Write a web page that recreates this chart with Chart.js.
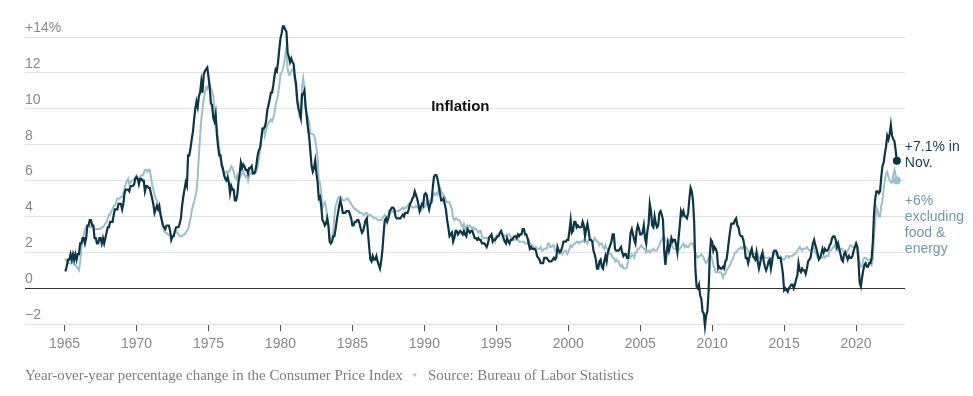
<!DOCTYPE html>
<html>
<head>
<meta charset="utf-8">
<script src="https://cdn.jsdelivr.net/npm/chart.js@4.4.1/dist/chart.umd.min.js"></script>
<style>
  html, body { margin: 0; padding: 0; background: #fff; }
  #wrap { position: relative; width: 973px; height: 396px; }
</style>
</head>
<body>
<div id="wrap"><canvas id="chart" width="973" height="396"></canvas></div>
<script>
// monthly year-over-year change, Jan 1965 .. Nov 2022
var startYear = 1965;

var headline = [
  1.0,1.0,1.3,1.6,1.6,1.9,1.6,1.9,1.6,1.9,1.6,1.9,       // 1965
  1.9,2.5,2.5,2.8,2.8,2.5,2.8,3.5,3.5,3.8,3.8,3.5,       // 1966
  3.5,2.8,2.8,2.5,2.5,2.8,2.8,2.5,2.8,2.5,2.8,3.1,       // 1967
  3.4,3.4,3.7,3.7,3.7,4.1,4.4,4.4,4.4,4.7,4.7,4.7,       // 1968
  4.4,4.7,5.3,5.5,5.5,5.5,5.4,5.7,5.7,5.7,5.8,6.1,       // 1969
  6.2,6.1,5.8,6.1,6.1,6.0,6.0,5.4,5.7,5.7,5.6,5.6,       // 1970
  5.3,5.0,4.7,4.2,4.4,4.6,4.4,4.6,4.1,3.8,3.5,3.4,       // 1971
  3.3,3.5,3.5,3.5,3.2,2.7,2.9,2.9,3.2,3.4,3.4,3.4,       // 1972
  3.6,3.9,4.6,5.1,5.5,5.9,5.7,7.4,7.4,7.8,8.3,8.7,       // 1973
  9.4,10.0,10.4,10.1,10.7,10.9,11.5,10.9,11.9,12.1,12.2,12.3, // 1974
  11.8,11.2,10.3,10.2,9.5,9.3,9.7,8.6,7.9,7.4,7.4,6.9,   // 1975
  6.7,6.3,6.1,6.0,6.2,5.9,5.3,5.7,5.5,5.5,4.9,4.9,       // 1976
  5.2,5.9,6.4,7.0,6.7,6.9,6.8,6.6,6.6,6.4,6.7,6.7,       // 1977
  6.8,6.4,6.4,6.5,6.9,7.4,7.7,7.8,8.3,8.9,8.9,9.0,       // 1978
  9.3,9.9,10.2,10.5,10.9,10.9,11.3,11.8,12.2,12.1,12.6,13.3, // 1979
  13.9,14.2,14.6,14.6,14.4,14.3,13.1,12.9,12.6,12.8,12.6,12.5, // 1980
  11.8,11.4,10.5,10.0,9.8,9.5,10.8,10.8,11.0,10.1,9.6,8.9,   // 1981
  8.4,7.6,6.8,6.5,6.7,7.1,6.4,5.9,5.0,5.1,4.6,3.8,       // 1982
  3.7,3.5,3.6,3.9,3.5,2.6,2.5,2.6,2.9,2.9,3.3,3.8,       // 1983
  4.2,4.6,4.9,4.6,4.2,4.2,4.2,4.3,4.3,4.3,4.1,3.9,       // 1984
  3.5,3.5,3.7,3.7,3.8,3.8,3.6,3.3,3.1,3.2,3.5,3.8,       // 1985
  3.9,3.1,2.3,1.6,1.5,1.8,1.6,1.6,1.8,1.5,1.3,1.1,       // 1986
  1.5,2.1,3.0,3.8,3.9,3.7,3.9,4.3,4.4,4.5,4.5,4.4,       // 1987
  4.0,3.9,3.9,3.9,3.9,4.0,4.1,4.0,4.2,4.2,4.2,4.4,       // 1988
  4.7,4.8,5.0,5.1,5.4,5.2,5.0,4.7,4.3,4.5,4.7,4.6,       // 1989
  5.2,5.3,5.2,4.7,4.4,4.7,4.8,5.6,6.2,6.3,6.3,6.1,       // 1990
  5.7,5.3,4.9,4.9,5.0,4.7,4.4,3.8,3.4,2.9,3.0,3.1,       // 1991
  2.6,2.8,3.2,3.2,3.0,3.1,3.2,3.1,3.0,3.2,3.0,2.9,       // 1992
  3.3,3.2,3.1,3.2,3.2,3.0,2.8,2.8,2.7,2.8,2.7,2.7,       // 1993
  2.5,2.5,2.5,2.4,2.3,2.5,2.8,2.9,3.0,2.6,2.7,2.7,       // 1994
  2.8,2.9,2.9,3.1,3.2,3.0,2.8,2.6,2.5,2.8,2.6,2.5,       // 1995
  2.7,2.7,2.8,2.9,2.9,2.8,3.0,2.9,3.0,3.0,3.3,3.3,       // 1996
  3.0,3.0,2.8,2.5,2.2,2.3,2.2,2.2,2.2,2.1,1.8,1.7,       // 1997
  1.6,1.4,1.4,1.4,1.7,1.7,1.7,1.6,1.5,1.5,1.5,1.6,       // 1998
  1.7,1.6,1.7,2.3,2.1,2.0,2.1,2.3,2.6,2.6,2.6,2.7,       // 1999
  2.7,3.2,3.8,3.1,3.2,3.7,3.7,3.4,3.5,3.4,3.4,3.4,       // 2000
  3.7,3.5,2.9,3.3,3.6,3.2,2.7,2.7,2.6,2.1,1.9,1.6,       // 2001
  1.1,1.1,1.5,1.6,1.2,1.1,1.5,1.8,1.5,2.0,2.2,2.4,       // 2002
  2.6,3.0,3.0,2.2,2.1,2.1,2.1,2.2,2.3,2.0,1.8,1.9,       // 2003
  1.9,1.7,1.7,2.3,3.1,3.3,3.0,2.7,2.5,3.2,3.5,3.3,       // 2004
  3.0,3.0,3.1,3.5,2.8,2.5,3.2,3.6,4.7,4.3,3.5,3.4,       // 2005
  4.0,3.6,3.4,3.5,4.2,4.3,4.1,3.8,2.1,1.3,2.0,2.5,       // 2006
  2.1,2.4,2.8,2.6,2.7,2.7,2.4,2.0,2.8,3.5,4.3,4.1,       // 2007
  4.3,4.0,4.0,3.9,4.2,5.0,5.6,5.4,4.9,3.7,1.1,0.1,       // 2008
  0.0,0.2,-0.4,-0.6,-1.3,-1.4,-2.1,-1.5,-1.3,-0.2,1.8,2.7, // 2009
  2.6,2.1,2.3,2.2,2.0,1.1,1.2,1.1,1.1,1.2,1.1,1.5,       // 2010
  1.6,2.1,2.7,3.2,3.6,3.6,3.6,3.8,3.9,3.5,3.4,3.0,       // 2011
  2.9,2.9,2.7,2.3,1.7,1.7,1.4,1.7,2.0,2.2,1.8,1.7,       // 2012
  1.6,2.0,1.5,1.1,1.4,1.8,2.0,1.5,1.2,1.0,1.2,1.5,       // 2013
  1.6,1.1,1.5,2.0,2.1,2.1,2.0,1.7,1.7,1.7,1.3,0.8,       // 2014
  -0.1,0.0,-0.1,-0.2,0.0,0.1,0.2,0.2,0.0,0.2,0.5,0.7,    // 2015
  1.4,1.0,0.9,1.1,1.0,1.0,0.8,1.1,1.5,1.6,1.7,2.1,       // 2016
  2.5,2.7,2.4,2.2,1.9,1.6,1.7,1.9,2.2,2.0,2.2,2.1,       // 2017
  2.1,2.2,2.4,2.5,2.8,2.9,2.9,2.7,2.3,2.5,2.2,1.9,       // 2018
  1.6,1.5,1.9,2.0,1.8,1.6,1.8,1.7,1.7,1.8,2.1,2.3,       // 2019
  2.5,2.3,1.5,0.3,0.1,0.6,1.0,1.3,1.4,1.2,1.2,1.4,       // 2020
  1.4,1.7,2.6,4.2,5.0,5.4,5.4,5.3,5.4,6.2,6.8,7.0,       // 2021
  7.5,7.9,8.5,8.3,8.6,9.1,8.5,8.3,8.2,7.7,7.1            // 2022
];

// excluding food & energy
var core = [
  1.6,1.6,1.5,1.4,1.4,1.4,1.4,1.5,1.3,1.3,1.2,1.1,       // 1965
  1.0,1.5,2.2,2.6,3.0,3.3,3.4,3.4,3.5,3.4,3.4,3.4,       // 1966
  3.4,3.3,3.3,3.3,3.3,3.3,3.3,3.4,3.4,3.5,3.6,3.7,       // 1967
  3.9,4.1,4.1,4.3,4.4,4.6,4.6,4.8,5.0,5.0,5.0,5.1,       // 1968
  5.1,5.3,5.6,5.8,6.0,6.1,5.8,5.9,6.0,6.0,6.1,6.2,       // 1969
  6.3,6.1,6.0,6.2,6.3,6.3,6.4,6.6,6.6,6.5,6.6,6.6,       // 1970
  6.2,5.8,5.5,5.2,5.0,4.9,4.6,4.5,4.2,3.9,3.5,3.2,       // 1971
  3.1,3.1,3.0,3.0,3.0,2.9,2.9,2.9,3.1,3.2,3.1,3.0,       // 1972
  2.9,2.9,2.9,3.0,3.0,3.1,3.2,3.3,3.6,3.9,4.3,4.6,       // 1973
  4.8,5.1,5.4,6.2,7.4,8.5,9.4,10.0,10.5,10.9,11.2,11.1,  // 1974
  11.3,11.4,11.1,11.0,10.7,10.0,9.5,8.8,8.3,7.8,7.3,6.7, // 1975
  6.6,6.4,6.4,6.5,6.4,6.5,6.6,6.8,6.7,6.5,6.2,6.1,       // 1976
  6.3,6.0,6.1,6.3,6.4,6.5,6.3,6.2,6.3,6.0,6.3,6.4,       // 1977
  6.4,6.4,6.4,6.4,6.6,6.8,7.2,7.7,8.4,8.7,8.9,8.5,       // 1978
  8.8,9.1,9.2,9.3,9.4,9.3,9.5,9.8,10.2,10.5,10.8,11.3,   // 1979
  11.9,12.0,12.2,12.5,13.0,13.4,12.2,11.9,11.9,12.1,12.2,12.2, // 1980
  11.6,11.1,10.3,10.3,9.5,9.5,11.3,11.7,11.1,10.1,9.3,9.5,   // 1981
  9.2,8.6,8.6,8.6,8.5,8.3,7.8,7.3,5.9,5.9,5.3,4.5,       // 1982
  4.7,4.8,4.5,4.0,3.5,2.9,2.7,2.7,3.2,4.0,4.6,4.8,       // 1983
  5.0,5.1,5.1,5.0,4.9,4.9,4.9,5.0,5.0,4.9,4.8,4.7,       // 1984
  4.6,4.5,4.4,4.4,4.3,4.3,4.2,4.2,4.2,4.1,4.1,4.2,       // 1985
  4.2,4.0,4.1,4.1,4.0,4.0,3.9,3.9,3.9,3.8,3.8,3.8,       // 1986
  3.8,3.9,4.0,4.1,4.0,4.0,4.0,4.1,4.2,4.3,4.3,4.2,       // 1987
  4.3,4.3,4.3,4.3,4.4,4.4,4.5,4.4,4.5,4.5,4.6,4.7,       // 1988
  4.6,4.6,4.5,4.5,4.5,4.6,4.5,4.5,4.4,4.3,4.4,4.5,       // 1989
  4.5,4.6,4.8,4.9,4.8,4.9,5.0,5.1,5.3,5.2,5.3,5.2,       // 1990
  5.5,5.6,5.4,5.3,5.2,5.1,4.9,4.8,4.8,4.8,4.6,4.4,       // 1991
  3.9,3.8,3.9,3.9,3.8,3.8,3.7,3.5,3.4,3.6,3.4,3.3,       // 1992
  3.5,3.4,3.5,3.4,3.3,3.4,3.3,3.3,3.2,3.1,3.2,3.2,       // 1993
  2.9,2.8,2.8,2.8,2.8,2.8,2.9,2.9,2.9,2.8,2.8,2.6,       // 1994
  2.9,3.0,3.0,3.1,3.1,3.0,3.0,2.9,2.9,3.0,3.0,3.0,       // 1995
  2.9,2.7,2.7,2.7,2.7,2.7,2.7,2.6,2.6,2.6,2.6,2.6,       // 1996
  2.5,2.5,2.5,2.7,2.5,2.4,2.4,2.3,2.2,2.3,2.2,2.2,       // 1997
  2.2,2.3,2.1,2.1,2.2,2.2,2.2,2.5,2.5,2.3,2.3,2.4,       // 1998
  2.4,2.1,2.1,2.2,2.0,2.1,2.1,1.9,2.0,2.1,2.1,1.9,       // 1999
  2.0,2.2,2.4,2.3,2.4,2.5,2.5,2.6,2.6,2.5,2.6,2.6,       // 2000
  2.6,2.7,2.7,2.6,2.5,2.7,2.7,2.7,2.6,2.6,2.8,2.7,       // 2001
  2.6,2.6,2.4,2.5,2.5,2.3,2.2,2.4,2.2,2.2,2.0,1.9,       // 2002
  1.9,1.7,1.7,1.5,1.6,1.5,1.5,1.3,1.2,1.3,1.1,1.1,       // 2003
  1.1,1.2,1.6,1.8,1.7,1.9,1.8,1.7,2.0,2.0,2.2,2.2,       // 2004
  2.3,2.4,2.3,2.2,2.2,2.0,2.1,2.1,2.0,2.1,2.1,2.2,       // 2005
  2.1,2.1,2.1,2.3,2.4,2.6,2.7,2.8,2.9,2.7,2.6,2.6,       // 2006
  2.7,2.7,2.5,2.3,2.2,2.2,2.2,2.1,2.1,2.2,2.3,2.4,       // 2007
  2.5,2.3,2.4,2.3,2.3,2.4,2.5,2.5,2.5,2.2,2.0,1.8,       // 2008
  1.7,1.8,1.8,1.9,1.8,1.7,1.5,1.4,1.5,1.7,1.7,1.8,       // 2009
  1.6,1.3,1.1,0.9,0.9,0.9,0.9,0.9,0.8,0.6,0.8,0.8,       // 2010
  1.0,1.1,1.2,1.3,1.5,1.6,1.8,2.0,2.0,2.1,2.2,2.2,       // 2011
  2.3,2.2,2.3,2.3,2.3,2.2,2.1,1.9,2.0,2.0,1.9,1.9,       // 2012
  1.9,2.0,1.9,1.7,1.7,1.6,1.7,1.8,1.7,1.7,1.7,1.7,       // 2013
  1.6,1.6,1.7,1.8,2.0,1.9,1.9,1.7,1.7,1.8,1.7,1.6,       // 2014
  1.6,1.7,1.8,1.8,1.7,1.8,1.8,1.8,1.9,1.9,2.0,2.1,       // 2015
  2.2,2.3,2.2,2.1,2.2,2.2,2.2,2.3,2.2,2.1,2.1,2.2,       // 2016
  2.3,2.2,2.0,1.9,1.7,1.7,1.7,1.7,1.7,1.8,1.7,1.8,       // 2017
  1.8,1.8,2.1,2.1,2.2,2.3,2.4,2.2,2.2,2.1,2.2,2.2,       // 2018
  2.2,2.1,2.0,2.1,2.0,2.1,2.2,2.4,2.4,2.3,2.3,2.3,       // 2019
  2.3,2.4,2.1,1.4,1.2,1.2,1.6,1.7,1.7,1.6,1.6,1.6,       // 2020
  1.4,1.3,1.6,3.0,3.8,4.5,4.3,4.0,4.0,4.6,4.9,5.5,       // 2021
  6.0,6.4,6.5,6.2,6.0,5.9,5.9,6.3,6.6,6.3,6.0            // 2022
];

var yearTicks = [1965, 1970, 1975, 1980, 1985, 1990, 1995, 2000, 2005, 2010, 2015, 2020];
var yTicks = [-2, 0, 2, 4, 6, 8, 10, 12, 14];

var darkColor = '#0c3545';
var lightColor = '#9dbfcd';

function toPoints(arr) {
  return arr.map(function(v, i) { return { x: startYear + i / 12, y: v }; });
}

function lastDot(arr, r) {
  return function(ctx) { return ctx.dataIndex === arr.length - 1 ? r : 0; };
}

// title, end labels and footer
var textPlugin = {
  id: 'texts',
  afterDraw: function(chart) {
    var ctx = chart.ctx;
    var xs = chart.scales.x, ys = chart.scales.y;
    var endX = xs.getPixelForValue(startYear + (headline.length - 1) / 12) + 8;
    ctx.save();
    ctx.textBaseline = 'middle';

    ctx.font = 'bold 15px "Liberation Sans", Arial, sans-serif';
    ctx.fillStyle = '#121212';
    ctx.textAlign = 'center';
    ctx.fillText('Inflation', xs.getPixelForValue(1992.5), ys.getPixelForValue(10.1));

    ctx.textAlign = 'left';
    ctx.font = '14px "Liberation Sans", Arial, sans-serif';
    var hy = ys.getPixelForValue(headline[headline.length - 1]);
    ctx.fillStyle = '#1d4252';
    ctx.fillText('+7.1% in', endX, hy - 14);
    ctx.fillText('Nov.', endX, hy + 2);

    var cy = ys.getPixelForValue(core[core.length - 1]);
    ctx.fillStyle = '#7298a8';
    ['+6%', 'excluding', 'food &', 'energy'].forEach(function(s, i) {
      ctx.fillText(s, endX, cy + 21 + i * 15.7);
    });

    // footer
    var note = 'Year-over-year percentage change in the Consumer Price Index';
    var src = 'Source: Bureau of Labor Statistics';
    ctx.font = '13px "Liberation Serif", serif';
    var w = ctx.measureText(note).width;
    var size = 13 * 378 / w;
    ctx.font = size.toFixed(2) + 'px "Liberation Serif", serif';
    ctx.fillStyle = '#7d7d7d';
    ctx.fillText(note, 25, 376);
    ctx.fillStyle = '#cccccc';
    ctx.fillText('\u2022', 412, 376);
    ctx.fillStyle = '#7d7d7d';
    ctx.fillText(src, 428, 376);
    ctx.restore();
  }
};

new Chart(document.getElementById('chart'), {
  type: 'line',
  data: {
    datasets: [
      {
        label: 'CPI',
        data: toPoints(headline),
        borderColor: darkColor,
        backgroundColor: darkColor,
        borderWidth: 2.2,
        pointRadius: lastDot(headline, 4),
        pointBorderWidth: 0,
        tension: 0,
        clip: false
      },
      {
        label: 'Excluding food and energy',
        data: toPoints(core),
        borderColor: lightColor,
        backgroundColor: lightColor,
        borderWidth: 2,
        pointRadius: lastDot(core, 4),
        pointBorderWidth: 0,
        tension: 0,
        clip: false
      }
    ]
  },
  options: {
    responsive: false,
    animation: false,
    events: [],
    layout: { padding: { left: 25, right: 68, top: 37, bottom: 38 } },
    plugins: { legend: { display: false }, tooltip: { enabled: false } },
    scales: {
      x: {
        type: 'linear',
        min: 1962.25,
        max: 2023.4,
        afterBuildTicks: function(scale) {
          scale.ticks = yearTicks.map(function(v) { return { value: v }; });
        },
        border: { display: false },
        grid: { drawOnChartArea: false, drawTicks: true, tickLength: 7, color: '#555' },
        ticks: {
          autoSkip: false,
          maxRotation: 0,
          padding: 5,
          color: '#888',
          font: { family: '"Liberation Sans", Arial, sans-serif', size: 14 },
          callback: function(v) { return String(v); }
        }
      },
      y: {
        min: -2,
        max: 14,
        afterBuildTicks: function(scale) {
          scale.ticks = yTicks.map(function(v) { return { value: v }; });
        },
        border: { display: false },
        grid: {
          drawTicks: false,
          color: function(ctx) { return ctx.tick && ctx.tick.value === 0 ? '#333' : '#e2e2e2'; },
          lineWidth: 1
        },
        ticks: {
          mirror: true,
          padding: 0,
          labelOffset: -9,
          color: '#888',
          font: { family: '"Liberation Sans", Arial, sans-serif', size: 14 },
          callback: function(v) {
            if (v === 14) return '+14%';
            if (v < 0) return '\u2212' + Math.abs(v);
            return String(v);
          }
        }
      }
    }
  },
  plugins: [textPlugin]
});
</script>
</body>
</html>
